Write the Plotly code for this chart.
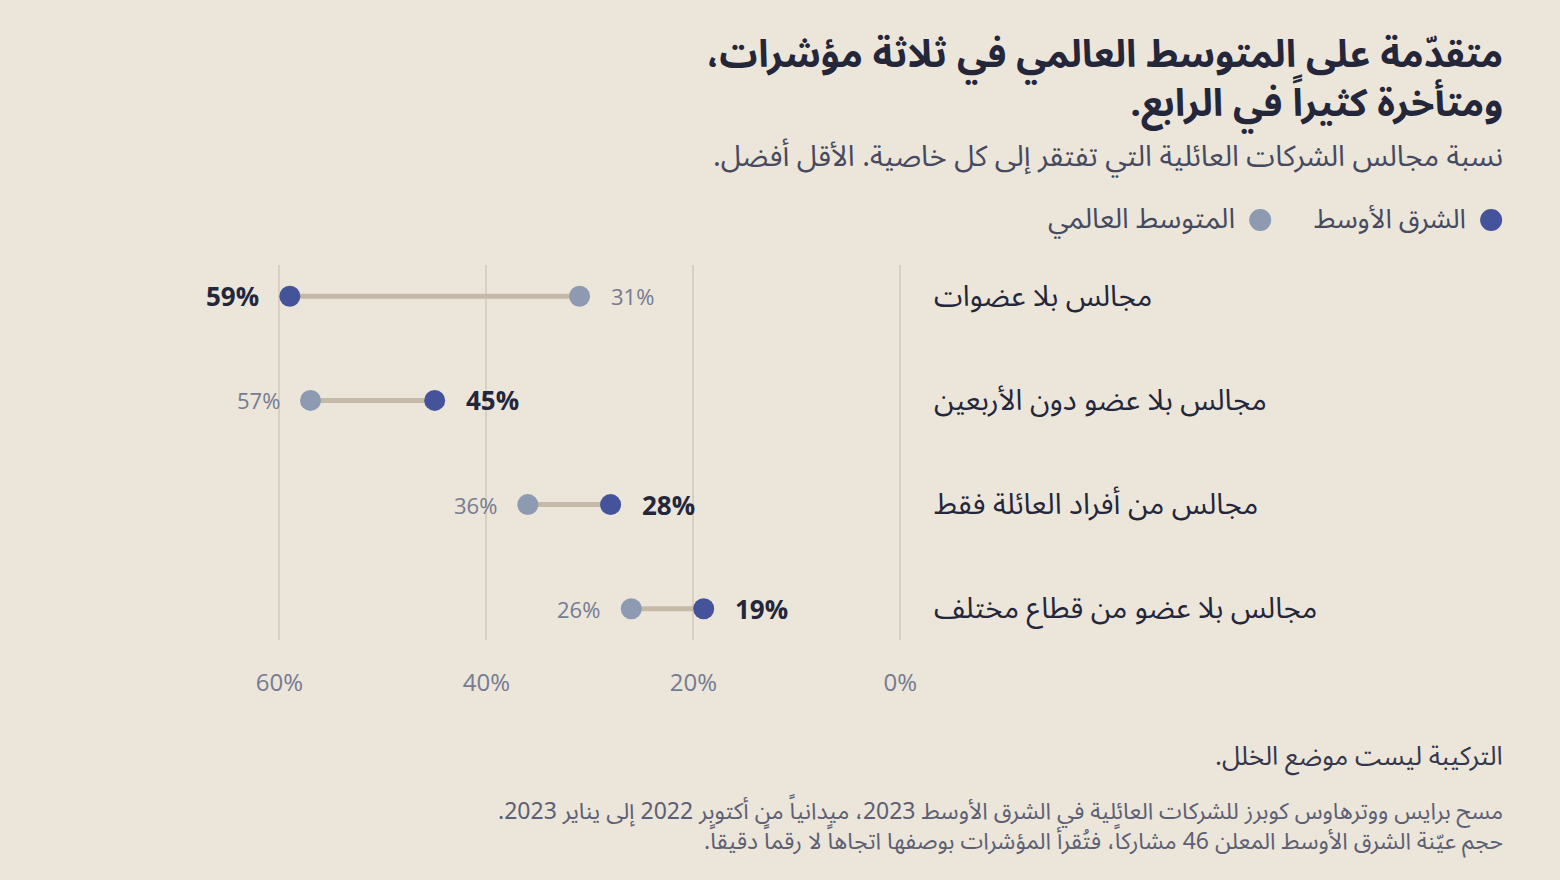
import plotly.graph_objects as go

categories = ["مجالس بلا عضوات", "مجالس بلا عضو دون الأربعين", "مجالس من أفراد العائلة فقط", "مجالس بلا عضو من قطاع مختلف"]
middle_east = [59, 45, 28, 19]
global_avg = [31, 57, 36, 26]
tick_vals = [60, 40, 20, 0]
tick_text = ["60%", "40%", "20%", "0%"]
series_names = ["الشرق الأوسط", "المتوسط العالمي"]

title_lines = ["متقدّمة على المتوسط العالمي في ثلاثة مؤشرات،", "ومتأخرة كثيراً في الرابع."]
subtitle = "نسبة مجالس الشركات العائلية التي تفتقر إلى كل خاصية. الأقل أفضل."
takeaway = "التركيبة ليست موضع الخلل."
notes = ["مسح برايس ووترهاوس كوبرز للشركات العائلية في الشرق الأوسط 2023، ميدانياً من أكتوبر 2022 إلى يناير 2023.",
         "حجم عيّنة الشرق الأوسط المعلن 46 مشاركاً، فتُقرأ المؤشرات بوصفها اتجاهاً لا رقماً دقيقاً."]

BG = "#ebe5da"
ME_C = "#45549a"
GL_C = "#8e9ab2"
LINE_C = "#c5baa8"
DARK = "#24263a"
GRAY = "#767b91"
AR = "Noto Sans Arabic, DejaVu Sans, sans-serif"
NUM = "Open Sans, Noto Sans, DejaVu Sans, sans-serif"
RLM = "\u200f"

W, H = 1560, 880
L, T = 175.5, 265
PW, PH = 745.2, 375
R = W - L - PW
B = H - T - PH
XR = 1505

def px(x):
    return (x - L) / PW

def py(y):
    return 1 - (y - T) / PH

def rtl(s):
    return RLM + s + RLM

ys = list(range(len(categories)))
fig = go.Figure()

for i in ys:
    fig.add_trace(go.Scatter(x=[middle_east[i], global_avg[i]], y=[i, i], mode="lines",
                             line=dict(color=LINE_C, width=5), hoverinfo="skip", showlegend=False))

fig.add_trace(go.Scatter(x=global_avg, y=ys, mode="markers", name=series_names[1],
                         marker=dict(size=21, color=GL_C, line=dict(width=0)), showlegend=False, cliponaxis=False))
fig.add_trace(go.Scatter(x=middle_east, y=ys, mode="markers", name=series_names[0],
                         marker=dict(size=21, color=ME_C, line=dict(width=0)), showlegend=False, cliponaxis=False))

ann = []
for i in ys:
    me, gl = middle_east[i], global_avg[i]
    me_left = me > gl  # larger value sits further left on the reversed axis
    ann.append(dict(x=me, y=i, xref="x", yref="y", text=f"<b>{me}%</b>", showarrow=False,
                    xanchor="right" if me_left else "left", xshift=-29 if me_left else 29,
                    font=dict(family=NUM, size=26, color=DARK)))
    ann.append(dict(x=gl, y=i, xref="x", yref="y", text=f"{gl}%", showarrow=False,
                    xanchor="left" if me_left else "right", xshift=29 if me_left else -29,
                    font=dict(family=NUM, size=22, color=GRAY)))
    ann.append(dict(x=px(932), y=i, xref="paper", yref="y", text=rtl(categories[i]), showarrow=False,
                    xanchor="left", font=dict(family=AR, size=29, color=DARK)))

def add_text(lines, xr, yc, size, color, bold=False):
    t = "<br>".join(rtl(s) for s in lines)
    if bold:
        t = f"<b>{t}</b>"
    ann.append(dict(x=px(xr), y=py(yc), xref="paper", yref="paper", text=t, showarrow=False,
                    xanchor="right", yanchor="middle", align="right",
                    font=dict(family=AR, size=size, color=color)))

add_text(title_lines, XR, 79, 38, DARK, bold=True)
add_text([subtitle], XR, 156, 29, "#464a60")
add_text([series_names[0]], 1468, 219, 27, "#464a60")
add_text([series_names[1]], 1237, 219, 28, "#464a60")
add_text([takeaway], XR, 756, 26, "#34374c")
add_text(notes, XR, 826, 23, "#5d6074")

shapes = []
for cx, col in [(1491, ME_C), (1260, GL_C)]:
    shapes.append(dict(type="circle", xref="paper", yref="paper", xsizemode="pixel", ysizemode="pixel",
                       xanchor=px(cx), yanchor=py(220), x0=-11, x1=11, y0=-11, y1=11,
                       fillcolor=col, line=dict(width=0)))

fig.update_layout(
    width=W, height=H, paper_bgcolor=BG, plot_bgcolor=BG,
    margin=dict(l=L, r=R, t=T, b=B, autoexpand=False),
    showlegend=False,
    annotations=ann, shapes=shapes,
    xaxis=dict(range=[70, -2], tickvals=tick_vals, ticktext=tick_text, showgrid=True,
               gridcolor="#d8d0c3", gridwidth=2, zeroline=False, showline=False, ticks="",
               tickfont=dict(family=NUM, size=24, color=GRAY), ticklabelstandoff=26, fixedrange=True),
    yaxis=dict(range=[3.3, -0.3], showgrid=False, zeroline=False, showticklabels=False, showline=False,
               fixedrange=True),
)

fig.write_html("out.html", config={"displayModeBar": False},
               post_script="document.body.style.margin='0';document.body.style.background='%s';" % BG)
